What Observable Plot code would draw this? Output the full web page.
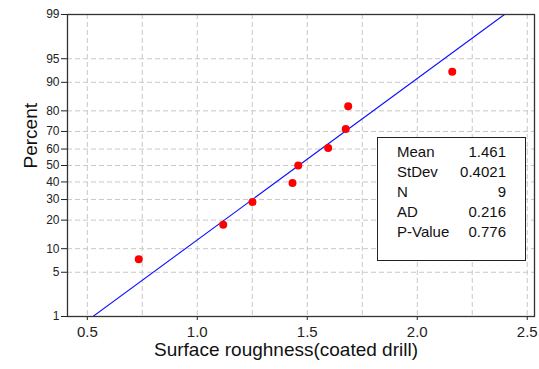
<!DOCTYPE html>
<html>
<head>
<meta charset="utf-8">
<script src="https://cdn.jsdelivr.net/npm/d3@7"></script>
<script src="https://cdn.jsdelivr.net/npm/@observablehq/plot@0.6"></script>
<style>
  body { margin: 0; background: white; }
  #wrap { position: relative; width: 539px; height: 369px; font-family: "Liberation Sans", Arial, sans-serif; }
  #stats { position: absolute; left: 377px; top: 137px; width: 147px; height: 118px; border: 1px solid #222; background: white;
           box-sizing: content-box; padding: 4px 0 0 0; font-size: 15px; color: #111; }
  #stats .row { display: flex; justify-content: space-between; height: 20px; line-height: 20px; padding: 0 19px 0 19px; }
</style>
</head>
<body>
<div id="wrap"></div>
<script>
// ---- data ----
const roughness = [0.734, 1.118, 1.251, 1.433, 1.459, 1.595, 1.675, 1.686, 2.159];
const percent = [7.45, 18.09, 28.72, 39.36, 50.0, 60.64, 71.28, 81.91, 92.55];
const statLabels = ["Mean", "StDev", "N", "AD", "P-Value"];
const statValues = ["1.461", "0.4021", "9", "0.216", "0.776"];
const fitMean = 1.461;
const fitSd = 0.4021;
const fitPercent = [1, 99];
const xTicks = [0.5, 1.0, 1.5, 2.0, 2.5];
const xGrid = [0.5, 0.75, 1.0, 1.25, 1.5, 1.75, 2.0, 2.25, 2.5];
const yTicks = [1, 5, 10, 20, 30, 40, 50, 60, 70, 80, 90, 95, 99];
const yGrid = [5, 10, 20, 30, 40, 50, 60, 70, 80, 90, 95];

// inverse normal CDF (Acklam)
function probit(p) {
  const a=[-3.969683028665376e+01,2.209460984245205e+02,-2.759285104469687e+02,1.383577518672690e+02,-3.066479806614716e+01,2.506628277459239e+00];
  const b=[-5.447609879822406e+01,1.615858368580409e+02,-1.556989798598866e+02,6.680131188771972e+01,-1.328068155288572e+01];
  const c=[-7.784894002430293e-03,-3.223964580411365e-01,-2.400758277161838e+00,-2.549732539343734e+00,4.374664141464968e+00,2.938163982698783e+00];
  const d=[7.784695709041462e-03,3.224671290700398e-01,2.445134137142996e+00,3.754408661907416e+00];
  const pl=0.02425, ph=1-pl; let q, r;
  if (p < pl) { q=Math.sqrt(-2*Math.log(p)); return (((((c[0]*q+c[1])*q+c[2])*q+c[3])*q+c[4])*q+c[5])/((((d[0]*q+d[1])*q+d[2])*q+d[3])*q+1); }
  if (p <= ph) { q=p-0.5; r=q*q; return (((((a[0]*r+a[1])*r+a[2])*r+a[3])*r+a[4])*r+a[5])*q/(((((b[0]*r+b[1])*r+b[2])*r+b[3])*r+b[4])*r+1); }
  q=Math.sqrt(-2*Math.log(1-p)); return -(((((c[0]*q+c[1])*q+c[2])*q+c[3])*q+c[4])*q+c[5])/((((d[0]*q+d[1])*q+d[2])*q+d[3])*q+1);
}
const z = pct => probit(pct / 100);

const points = roughness.map((x, i) => ({x, z: z(percent[i])}));
const fit = fitPercent.map(p => ({z: z(p), x: fitMean + z(p) * fitSd}));
const yTickZ = yTicks.map(z);
const yLabel = new Map(yTicks.map(t => [z(t), String(t)]));

const gridStyle = {stroke: "#c8c8c8", strokeOpacity: 1, strokeDasharray: "5,3", strokeWidth: 1};

const chart = Plot.plot({
  width: 539,
  height: 369,
  marginLeft: 67,
  marginRight: 5,
  marginTop: 14,
  marginBottom: 53,
  style: {fontFamily: "'Liberation Sans', Arial, sans-serif", background: "white", color: "#222"},
  x: {domain: [0.41, 2.533]},
  y: {domain: [z(1), z(99)]},
  marks: [
    Plot.gridX(xGrid, gridStyle),
    Plot.gridY(yGrid.map(z), gridStyle),
    Plot.line(fit, {x: "x", y: "z", stroke: "#1010ff", strokeWidth: 1.1, clip: true}),
    Plot.dot(points, {x: "x", y: "z", r: 4, fill: "#ff0000", stroke: "none"}),
    Plot.axisX(xTicks, {tickSize: 4, tickPadding: 6, fontSize: 15, label: null, tickFormat: d => d.toFixed(1), stroke: "#222"}),
    Plot.axisY(yTickZ, {tickSize: 6, tickPadding: 2, fontSize: 12, label: null, tickFormat: v => yLabel.get(v), stroke: "#222"}),
    Plot.frame({stroke: "#333", strokeWidth: 1.3}),
    Plot.text(["Surface roughness(coated drill)"], {frameAnchor: "bottom", dx: -15, dy: 39, fontSize: 19, fill: "#111"}),
    Plot.text(["Percent"], {frameAnchor: "left", rotate: -90, dx: -37, dy: 3, fontSize: 19, fill: "#111"})
  ]
});

const wrap = document.getElementById("wrap");
wrap.appendChild(chart);
const box = document.createElement("div");
box.id = "stats";
statLabels.forEach((lab, i) => {
  const row = document.createElement("div");
  row.className = "row";
  const a = document.createElement("span"); a.textContent = lab;
  const b = document.createElement("span"); b.textContent = statValues[i];
  row.appendChild(a); row.appendChild(b);
  box.appendChild(row);
});
wrap.appendChild(box);
</script>
</body>
</html>
